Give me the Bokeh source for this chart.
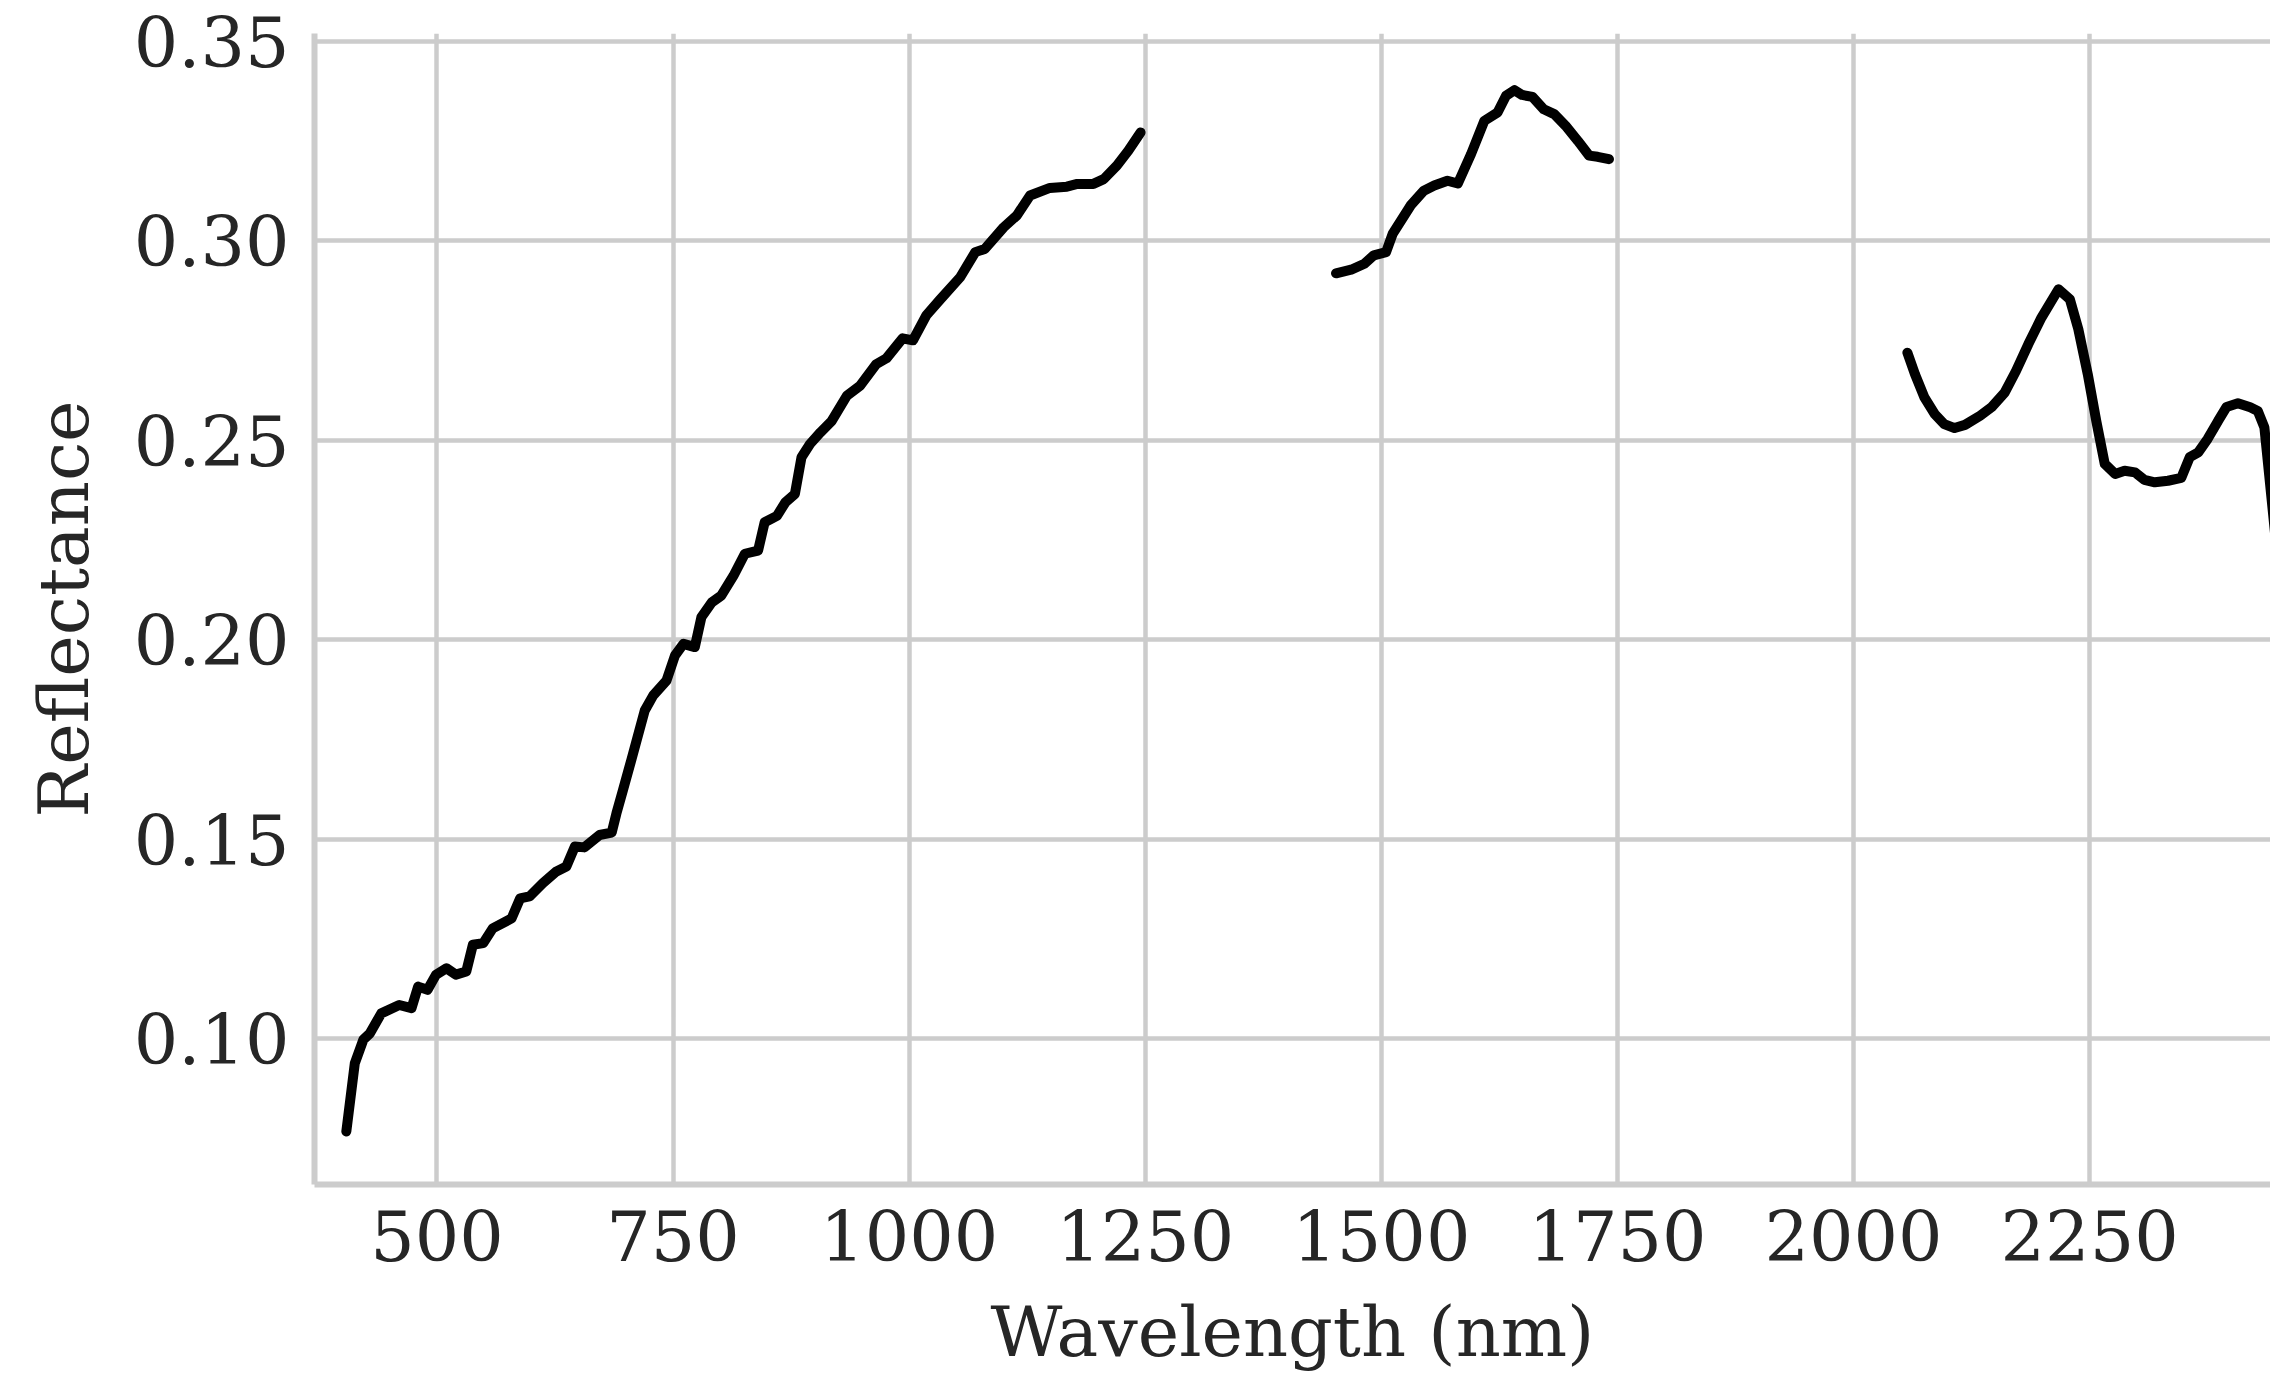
from bokeh.plotting import figure
from bokeh.models import FixedTicker, NumeralTickFormatter, Range1d
from bokeh.embed import file_html
from bokeh.resources import INLINE

# Reflectance spectrum, split where the water-absorption bands were removed
vnir_nm = [404, 413, 422, 429, 441, 460, 473, 480, 490, 499, 510, 520, 531, 538, 549,
           559, 579, 588, 598, 612, 626, 637, 646, 656, 672, 685, 690, 697, 706, 720,
           729, 743, 752, 761, 773, 780, 791, 801, 814, 826, 840, 847, 860, 869, 879,
           886, 895, 906, 918, 934, 948, 965, 976, 993, 1004, 1018, 1032, 1054, 1070, 1080,
           1100, 1114, 1128, 1149, 1167, 1178, 1195, 1206, 1220, 1232, 1245]
vnir_refl = [0.0767, 0.0938, 0.0997, 0.1013, 0.1063, 0.1084, 0.1076, 0.1130, 0.1122, 0.1160,
             0.1176, 0.1160, 0.1168, 0.1235, 0.1239, 0.1276, 0.1301, 0.1351, 0.1356, 0.1389,
             0.1418, 0.1431, 0.1481, 0.1479, 0.1510, 0.1516, 0.1564, 0.1623, 0.1700, 0.1822,
             0.1860, 0.1897, 0.1960, 0.1989, 0.1981, 0.2056, 0.2093, 0.2110, 0.2160, 0.2215,
             0.2223, 0.2294, 0.2310, 0.2344, 0.2365, 0.2457, 0.2490, 0.2519, 0.2548, 0.2611,
             0.2636, 0.2690, 0.2705, 0.2755, 0.2750, 0.2812, 0.2850, 0.2908, 0.2971, 0.2979,
             0.3033, 0.3063, 0.3113, 0.3132, 0.3135, 0.3142, 0.3142, 0.3154, 0.3188, 0.3225,
             0.3271]

swir1_nm = [1452, 1468, 1482, 1492, 1505, 1512, 1531, 1545, 1556, 1570, 1581, 1595, 1609,
            1623, 1632, 1641, 1649, 1660, 1672, 1683, 1695, 1708, 1720, 1729, 1741]
swir1_refl = [0.2918, 0.2927, 0.2942, 0.2963, 0.2971, 0.3017, 0.3088, 0.3125, 0.3138, 0.3150,
              0.3143, 0.3217, 0.3300, 0.3321, 0.3363, 0.3377, 0.3365, 0.3360, 0.3329, 0.3317,
              0.3288, 0.3250, 0.3213, 0.3210, 0.3204]

swir2_nm = [2057, 2065, 2075, 2086, 2096, 2107, 2118, 2134, 2146, 2160, 2172, 2185, 2199,
            2217, 2229, 2238, 2248, 2257, 2266, 2277, 2287, 2298, 2308, 2319, 2333, 2347,
            2356, 2365, 2375, 2386, 2395, 2407, 2420, 2428, 2435, 2447, 2460]
swir2_refl = [0.2719, 0.2665, 0.2607, 0.2565, 0.2540, 0.2530, 0.2538, 0.2561, 0.2582, 0.2619,
              0.2673, 0.2740, 0.2807, 0.2878, 0.2853, 0.2778, 0.2665, 0.2548, 0.2440, 0.2415,
              0.2423, 0.2419, 0.2400, 0.2394, 0.2398, 0.2405, 0.2457, 0.2469, 0.2503, 0.2548,
              0.2583, 0.2592, 0.2582, 0.2573, 0.2532, 0.2250, 0.1960]

x_ticks = [500, 750, 1000, 1250, 1500, 1750, 2000, 2250, 2500]
y_ticks = [0.10, 0.15, 0.20, 0.25, 0.30, 0.35]

FONT = "DejaVu Serif"
TEXT = "#262626"
GRID = "#cccccc"

p = figure(
    frame_width=1956, frame_height=1151,
    x_range=Range1d(370.3, 2441.5), y_range=Range1d(0.0634, 0.3519),
    output_backend="svg", toolbar_location=None,
    min_border_left=314, min_border_right=0, min_border_top=33, min_border_bottom=196,
    background_fill_color="white", border_fill_color="white",
)
p.outline_line_color = None

for xs, ys in ((vnir_nm, vnir_refl), (swir1_nm, swir1_refl), (swir2_nm, swir2_refl)):
    p.line(xs, ys, line_color="black", line_width=10, line_cap="round", line_join="round")

p.xaxis.ticker = FixedTicker(ticks=x_ticks)
p.yaxis.ticker = FixedTicker(ticks=y_ticks)
p.yaxis.formatter = NumeralTickFormatter(format="0.00")

p.xaxis.axis_label = "Wavelength (nm)"
p.yaxis.axis_label = "Reflectance"

for ax in (p.xaxis[0], p.yaxis[0]):
    ax.axis_line_color = GRID
    ax.axis_line_width = 6
    ax.major_tick_line_color = None
    ax.minor_tick_line_color = None
    ax.major_tick_out = 0
    ax.major_tick_in = 0
    ax.major_label_text_font = FONT
    ax.major_label_text_font_size = "70px"
    ax.major_label_text_color = TEXT
    ax.axis_label_text_font = FONT
    ax.axis_label_text_font_size = "70px"
    ax.axis_label_text_font_style = "normal"
    ax.axis_label_text_color = TEXT

p.xaxis.major_label_standoff = 25
p.xaxis.axis_label_standoff = 27
p.yaxis.major_label_standoff = 25
p.yaxis.axis_label_standoff = 26

p.xgrid.grid_line_color = GRID
p.ygrid.grid_line_color = GRID
p.xgrid.grid_line_width = 4.5
p.ygrid.grid_line_width = 4.5

open("out.html", "w").write(file_html(p, INLINE))
